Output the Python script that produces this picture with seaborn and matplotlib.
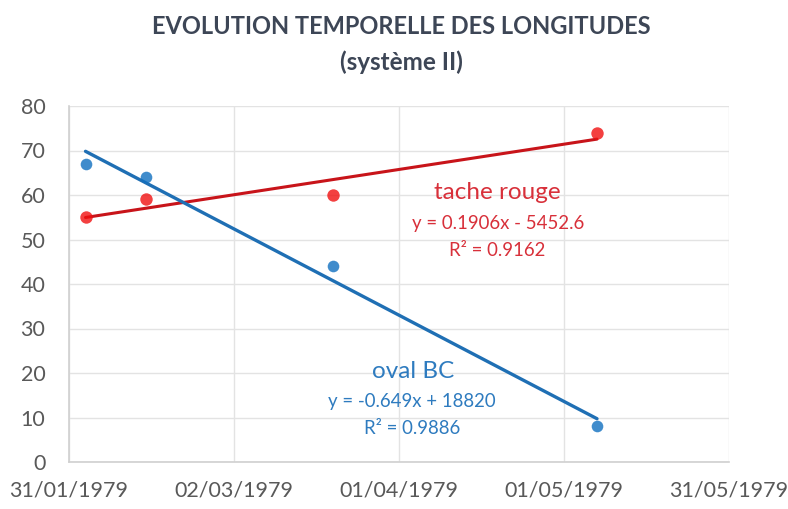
import matplotlib
matplotlib.use("Agg")
import matplotlib.pyplot as plt
import matplotlib.dates as mdates
import seaborn as sns
import pandas as pd
import numpy as np

dates = ["1979-02-03", "1979-02-14", "1979-03-20", "1979-05-07"]
oval_bc = [67, 64, 44, 8]
tache_rouge = [55, 59, 60, 74]
x_ticks = ["1979-01-31", "1979-03-02", "1979-04-01", "1979-05-01", "1979-05-31"]
y_ticks = [0, 10, 20, 30, 40, 50, 60, 70, 80]

sns.set_theme(style="white")
plt.rcParams['font.family'] = ['Lato', 'DejaVu Sans']

xnum = mdates.date2num(pd.to_datetime(dates))
xt = mdates.date2num(pd.to_datetime(x_ticks))
df = pd.DataFrame({"x": xnum, "oval": oval_bc, "rouge": tache_rouge})

fig = plt.figure(figsize=(7.88, 5.09), dpi=100)
ax = fig.add_axes([69/788, 1-462/509, (729-69)/788, (462-106)/509])

blue = "#1f6fb4"
blue_txt = "#2e7bbf"
red_line = "#c8141a"
red_txt = "#d8303a"

sns.regplot(data=df, x="x", y="rouge", ax=ax, ci=None, truncate=True,
            scatter_kws=dict(s=80, color="#f01010", linewidths=0, zorder=4),
            line_kws=dict(color=red_line, lw=2.2, zorder=3))
sns.regplot(data=df, x="x", y="oval", ax=ax, ci=None, truncate=True,
            scatter_kws=dict(s=70, color="#1070c0", linewidths=0, zorder=4),
            line_kws=dict(color=blue, lw=2.4, zorder=3))

ax.set_xlim(xt[0], xt[-1])
ax.set_ylim(0, 80)
ax.set_xticks(xt)
ax.set_xticklabels([pd.Timestamp(d).strftime("%d/%m/%Y") for d in x_ticks])
ax.set_yticks(y_ticks)
ax.set_xlabel("")
ax.set_ylabel("")
ax.grid(True, color="#e3e3e3", lw=1)
ax.set_axisbelow(True)
for s in ["top", "right"]:
    ax.spines[s].set_visible(False)
for s in ["left", "bottom"]:
    ax.spines[s].set_color("#d0d0d0")
    ax.spines[s].set_linewidth(1.2)
ax.tick_params(axis="both", colors="#595959", labelsize=15.5, length=0)
ax.tick_params(axis="x", pad=13)
ax.tick_params(axis="y", pad=17)

fig.text(401/788, 1-26/509, "EVOLUTION TEMPORELLE DES LONGITUDES", ha="center", va="center",
         fontsize=17, fontweight="bold", color="#3d4656")
fig.text(401/788, 1-62/509, "(système II)", ha="center", va="center",
         fontsize=17.5, fontweight="bold", color="#3d4656")

def px(xp, yp):
    return xp/788, 1-yp/509

fig.text(*px(497, 192), "tache rouge", ha="center", va="center", fontsize=17.5, color=red_txt)
fig.text(*px(498, 223), "y = 0.1906x - 5452.6", ha="center", va="center", fontsize=13.4, color=red_txt)
fig.text(*px(497, 250), "R² = 0.9162", ha="center", va="center", fontsize=13.4, color=red_txt)

fig.text(*px(413, 372), "oval BC", ha="center", va="center", fontsize=17.5, color=blue_txt)
fig.text(*px(412, 402), "y = -0.649x + 18820", ha="center", va="center", fontsize=13.4, color=blue_txt)
fig.text(*px(412, 428), "R² = 0.9886", ha="center", va="center", fontsize=13.4, color=blue_txt)

fig.savefig("out.png", dpi=100, facecolor="white")
